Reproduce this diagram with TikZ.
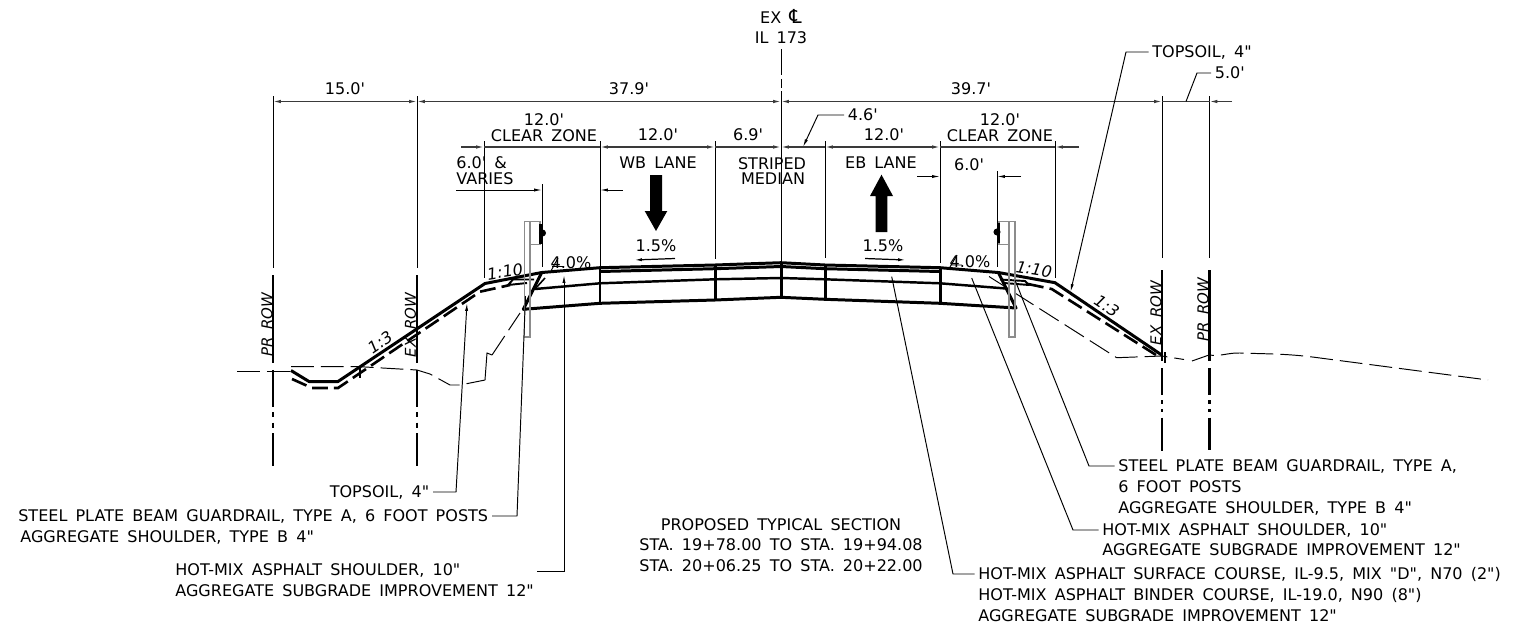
\documentclass[tikz,border=0pt]{standalone}
\usepackage{fontspec}
\usepackage{tikz}
\newfontfamily\drawingfont[WordSpace=1.6]{DejaVu Sans}
\definecolor{postgray}{HTML}{8C8C8C}
\definecolor{dimgray}{HTML}{3A3A3A}
\usetikzlibrary{arrows.meta}
\tikzstyle{lbl}=[inner sep=2pt, text height=6.8pt, text depth=0pt, font=\drawingfont\fontsize{9.12}{11}\selectfont]
\tikzstyle{lblw}=[lbl, anchor=west]
\tikzstyle{slope}=[lbl, font=\drawingfont\fontsize{9.12}{11}\selectfont\itshape]
\tikzstyle{rowtxt}=[lbl, rotate=90, font=\drawingfont\fontsize{8.5}{11}\selectfont\itshape]
\tikzstyle{thinln}=[draw=black, line width=0.55pt]
\tikzstyle{dimln}=[draw=dimgray, line width=0.7pt, arrows={Latex[length=4.5pt,width=2pt]-Latex[length=4.5pt,width=2pt]}]
\tikzstyle{leader}=[draw=black, line width=0.55pt, arrows={-Latex[length=4.5pt,width=1.8pt]}]
\tikzstyle{road}=[draw=black, line width=1.7pt, line join=round]
\tikzstyle{subgr}=[draw=black, line width=1.5pt, dash pattern=on 9pt off 3.5pt]
\tikzstyle{ground}=[draw=black, line width=0.55pt, dash pattern=on 13pt off 4pt]
\tikzstyle{rowln}=[draw=black, line width=1.5pt, dash pattern=on 50pt off 4pt on 21pt off 3pt on 3pt off 3pt on 3pt off 3pt on 30pt]
\tikzstyle{rowlnb}=[draw=black, line width=1.3pt, dash pattern=on 52pt off 4pt on 15pt off 3pt on 2pt off 3pt on 2pt off 3pt on 19pt]
\tikzstyle{post}=[draw=postgray, line width=0.8pt]
\tikzstyle{rail}=[circle, fill=black, inner sep=0pt, minimum size=4pt]
\begin{document}
\begin{tikzpicture}[x=0.02cm, y=-0.02cm]
		\useasboundingbox (0,0) rectangle (1532,626);
		% stations across the section
		\coordinate (prL) at (273,96);
		\coordinate (exL) at (417,96);
		\coordinate (czL) at (484,141);
		\coordinate (laneA) at (600,141);
		\coordinate (laneB) at (715,141);
		\coordinate (cl) at (781,49);
		\coordinate (laneC) at (825,141);
		\coordinate (laneD) at (940,141);
		\coordinate (czR) at (1055,141);
		\coordinate (exR) at (1162,96);
		\coordinate (prR) at (1209.5,96);
		\coordinate (gdL) at (542,184);
		\coordinate (gdR) at (997,171);
		\coordinate (dimtop) at (0,101.5);
		\coordinate (dimmid) at (0,147);
		% finished surface
		\coordinate (s1) at (291,370.5);
		\coordinate (s2) at (309,381.5);
		\coordinate (s3) at (338,381.5);
		\coordinate (s4) at (485,283.5);
		\coordinate (s5) at (541.7,272.5);
		\coordinate (s6) at (600,267.7);
		\coordinate (s7) at (715,265);
		\coordinate (s8) at (781,262.7);
		\coordinate (s9) at (825,265);
		\coordinate (s10) at (940,267.7);
		\coordinate (s11) at (998.3,272.5);
		\coordinate (s12) at (1055,282.7);
		\coordinate (s13) at (1161.7,355);
		\path[road] (s1) -- (s2) -- (s3) -- (s4) -- (s5) -- (s6) -- (s7) -- (s8) -- (s9) -- (s10) -- (s11) -- (s12) -- (s13);
		% pavement layers
		\coordinate (c1) at (600,271.5);
		\coordinate (c2) at (715,268.7);
		\coordinate (c3) at (781,266.5);
		\coordinate (c4) at (825,268.7);
		\coordinate (c5) at (940,271.5);
		\path[road] (c1) -- (c2) -- (c3) -- (c4) -- (c5);
		\coordinate (m1) at (535,289);
		\coordinate (m2) at (600,283.3);
		\coordinate (m3) at (715,279.3);
		\coordinate (m4) at (781,278);
		\coordinate (m5) at (825,279.3);
		\coordinate (m6) at (940,283.3);
		\coordinate (m7) at (1006,288.5);
		\path[road, line width=1.4pt] (m1) -- (m2) -- (m3) -- (m4) -- (m5) -- (m6) -- (m7);
		\coordinate (b1) at (523.3,309.3);
		\coordinate (b2) at (600,303.3);
		\coordinate (b3) at (715,300);
		\coordinate (b4) at (781,297.3);
		\coordinate (b5) at (825,299.3);
		\coordinate (b6) at (940,303.3);
		\coordinate (b7) at (1016,308);
		\path[road] (s5) -- (b1) -- (b2) -- (b3) -- (b4) -- (b5) -- (b6) -- (b7) -- (s11);
		\path[road]
			(s6) -- (b2)
			(s7) -- (b3)
			(s8) -- (b4)
			(s9) -- (b5)
			(s10) -- (b6);
		\coordinate (k1) at (545,278);
		\path[road, line width=0.9pt] (k1) -- (m1);
		% shoulder wedges
		\coordinate (wl1) at (508,285);
		\coordinate (wl2) at (513,279.5);
		\coordinate (wl3) at (527,283);
		\coordinate (wl4) at (534,279.5);
		\path[road, line width=1.1pt] (wl3) -- (wl1) -- (wl2) -- (wl4);
		\coordinate (wr1) at (1000,279.5);
		\coordinate (wr2) at (1025,281);
		\coordinate (wr3) at (1029,285);
		\coordinate (wr4) at (1004,283);
		\path[road, line width=1.1pt] (wr1) -- (wr2) -- (wr3) -- (wr4);
		% subgrade below topsoil
		\coordinate (d1) at (292,379);
		\coordinate (d2) at (312,388);
		\coordinate (d3) at (338,388);
		\coordinate (d4) at (480,291.7);
		\coordinate (d5) at (510,285);
		\path[subgr] (d1) -- (d2) -- (d3) -- (d4) -- (d5);
		\coordinate (d6) at (1028,284);
		\coordinate (d7) at (1051.7,289);
		\coordinate (d8) at (1160,357.5);
		\path[subgr] (d6) -- (d7) -- (d8);
		\coordinate (e1) at (360,367);
		\coordinate (e2) at (360,378);
		\coordinate (e3) at (1165,352);
		\coordinate (e4) at (1165,363);
		\path[road, line width=1.1pt] (e1) -- (e2) (e3) -- (e4);
		% existing ground
		\coordinate (g1) at (237,371);
		\coordinate (g2) at (291,371);
		\coordinate (g3) at (291,366.7);
		\coordinate (g4) at (360,366.7);
		\coordinate (g5) at (417,370);
		\coordinate (g6) at (430,374);
		\coordinate (g7) at (450,385);
		\coordinate (g8) at (460,385);
		\coordinate (g9) at (485,380);
		\coordinate (g10) at (487,353);
		\coordinate (g11) at (492,355);
		\coordinate (g12) at (520,313);
		\path[ground] (g1) -- (g2);
		\path[ground] (g3) -- (g4) -- (g5) -- (g6) -- (g7) -- (g8) -- (g9);
		\path[thinln] (g9) -- (g10) -- (g11);
		\path[ground] (g11) -- (g12);
		\coordinate (h1) at (989,276.5);
		\coordinate (h2) at (1116.7,357.7);
		\coordinate (h3) at (1162,356);
		\coordinate (h4) at (1184,359.5);
		\coordinate (h5) at (1192,361);
		\coordinate (h6) at (1209,355);
		\coordinate (h7) at (1240,353);
		\coordinate (h8) at (1320,358);
		\coordinate (h9) at (1488,380);
		\path[ground] (h1) -- (h2) -- (h3) -- (h4);
		\path[ground] (h5) -- (h6) to[out=-8, in=178] (h7) to[out=-2, in=172] (h8) -- (h9);
		% extension lines
		\coordinate (prLend) at (273,268);
		\coordinate (exLend) at (417,268);
		\coordinate (czLend) at (484,278);
		\coordinate (laneAend) at (600,267);
		\coordinate (laneBend) at (715,259);
		\coordinate (laneCend) at (825,258);
		\coordinate (laneDend) at (940,263);
		\coordinate (czRend) at (1055,278);
		\coordinate (exRend) at (1162,258);
		\coordinate (prRend) at (1209.5,258);
		\coordinate (gdLend) at (542,267);
		\coordinate (gdRend) at (997,267);
		\coordinate (clend) at (781,298);
		\path[thinln]
			(prL) -- (prLend)
			(exL) -- (exLend)
			(czL) -- (czLend)
			(laneA) -- (laneAend)
			(laneB) -- (laneBend)
			(laneC) -- (laneCend)
			(laneD) -- (laneDend)
			(czR) -- (czRend)
			(exR) -- (exRend)
			(prR) -- (prRend)
			(gdL) -- (gdLend)
			(gdR) -- (gdRend);
		\path[thinln, dash pattern=on 15pt off 2pt on 5pt off 2pt on 200pt] (cl) -- (clend);
		% right of way lines
		\coordinate (rowa) at (273,275);
		\coordinate (rowb) at (273,466);
		\coordinate (rowc) at (417,275);
		\coordinate (rowd) at (417,466);
		\coordinate (rowe) at (1162,270);
		\coordinate (rowf) at (1162,453);
		\coordinate (rowg) at (1209.5,270);
		\coordinate (rowh) at (1209.5,450);
		\path[rowln] (rowa) -- (rowb);
		\path[rowln] (rowc) -- (rowd);
		\path[rowlnb] (rowe) -- (rowf);
		\path[rowlnb] (rowg) -- (rowh);
		% dimension lines
		\path[dimln] (prL|-dimtop) -- (exL|-dimtop);
		\path[dimln] (exL|-dimtop) -- (cl|-dimtop);
		\path[dimln] (cl|-dimtop) -- (exR|-dimtop);
		\coordinate (topa) at (1232,101.5);
		\path[dimln, arrows={-Latex[length=4.5pt,width=2pt]}] (topa) -- (prR|-dimtop);
		\path[dimln, arrows={-}] (exR|-dimtop) -- (prR|-dimtop);
		\path[dimln] (laneA|-dimmid) -- (laneB|-dimmid);
		\path[dimln, arrows={-Latex[length=4.5pt,width=2pt]}] (laneB|-dimmid) -- (cl|-dimmid);
		\path[dimln, arrows={-Latex[length=4.5pt,width=2pt]}] (laneC|-dimmid) -- (cl|-dimmid);
		\path[dimln] (laneC|-dimmid) -- (laneD|-dimmid);
		\coordinate (mida) at (461,147);
		\coordinate (midb) at (1079,147);
		\path[dimln, arrows={-Latex[length=4.5pt,width=2pt]}] (mida) -- (czL|-dimmid);
		\path[dimln, arrows={-}] (czL|-dimmid) -- (laneA|-dimmid);
		\path[dimln, arrows={-}] (laneD|-dimmid) -- (czR|-dimmid);
		\path[dimln, arrows={-Latex[length=4.5pt,width=2pt]}] (midb) -- (czR|-dimmid);
		\coordinate (ga) at (456,190);
		\coordinate (gb) at (542,190);
		\coordinate (gc) at (622.5,190);
		\coordinate (gd) at (600,190);
		\path[leader] (ga) -- (gb);
		\path[leader] (gc) -- (gd);
		\coordinate (ge) at (917,176.5);
		\coordinate (gf) at (940,176.5);
		\coordinate (gg) at (1021,176.5);
		\coordinate (gh) at (997,176.5);
		\path[leader] (ge) -- (gf);
		\path[leader] (gg) -- (gh);
		% cross slope arrows
		\coordinate (ca) at (675,258.5);
		\coordinate (cb) at (634,260);
		\coordinate (cc) at (865,258.5);
		\coordinate (cd) at (906,260);
		\path[leader, line width=0.7pt] (ca) -- (cb);
		\path[leader, line width=0.7pt] (cc) -- (cd);
		\coordinate (ce) at (551.5,270);
		\coordinate (cf) at (558,258);
		\coordinate (cg) at (552,266.5);
		\coordinate (ch) at (564,266.5);
		\path[thinln] (ce) -- (cf) (cg) -- (ch);
		\coordinate (ci) at (950,267);
		\coordinate (cj) at (957,255);
		\coordinate (ck) at (951,265);
		\coordinate (cl2) at (962,265);
		\path[thinln] (ci) -- (cj) (ck) -- (cl2);
		% direction arrows
		\fill[black] (650,175) -- (662,175) -- (662,211) -- (667.3,211) -- (656,231) -- (644.7,211) -- (650,211) -- cycle;
		\fill[black] (875.7,232) -- (887.3,232) -- (887.3,196) -- (893,196) -- (881.5,174.7) -- (870,196) -- (875.7,196) -- cycle;
		% guardrail
		\path[post] (524.5,221.5) rectangle (530,337) (530,221.5) rectangle (540,244.5);
		\path[post] (1009,221.5) rectangle (1015,337) (999,221.5) rectangle (1009,244.5);
		\node[rail](railL) at (542.5,233) {};
		\node[rail](railR) at (997,232) {};
		\path[draw=black, line width=1.2pt]
			(railL.center) ++(-2,-9) -- ++(0,20)
			(railR.center) ++(2,-9) -- ++(0,20);
		% labels
		\node[lbl](clA) at (781,18) {EX {\fontsize{11}{11}\selectfont ℄}};
		\node[lbl](clB) at (781,38) {IL 173};
		\node[lbl](dimA) at (345,89) {15.0'};
		\node[lbl](dimB) at (629,89) {37.9'};
		\node[lbl](dimC) at (971,89) {39.7'};
		\node[lblw](dimD) at (1211,73) {5.0'};
		\node[lblw](dimE) at (844,115) {4.6'};
		\node[lbl](czAa) at (544,120) {12.0'};
		\node[lbl](czAb) at (544,135.5) {CLEAR ZONE};
		\node[lbl](czBa) at (1000,120) {12.0'};
		\node[lbl](czBb) at (1000,135.5) {CLEAR ZONE};
		\node[lbl](dimF) at (658,135) {12.0'};
		\node[lbl](dimG) at (748,135) {6.9'};
		\node[lbl](dimH) at (884,135) {12.0'};
		\node[lbl](laneW) at (658,163) {WB LANE};
		\node[lbl](laneE) at (881,163) {EB LANE};
		\node[lbl](medA) at (772,164) {STRIPED};
		\node[lbl](medB) at (773,179) {MEDIAN};
		\node[lblw](gdA) at (452.5,163) {6.0' \&};
		\node[lblw](gdB) at (452.5,179) {VARIES};
		\node[lbl](gdC) at (969,165) {6.0'};
		\node[lbl](pctA) at (656,246) {1.5\%};
		\node[lbl](pctB) at (883,246) {1.5\%};
		\node[lbl](pctC) at (571,263) {4.0\%};
		\node[lbl](pctD) at (970,262) {4.0\%};
		\node[slope, rotate=9](slA) at (505,271.5) {1:10};
		\node[slope, rotate=-9](slB) at (1034,269) {1:10};
		\node[slope, rotate=34](slC) at (380,342) {1:3};
		\node[slope, rotate=-34](slD) at (1107,306) {1:3};
		\node[rowtxt](rowA) at (266.5,325) {PR ROW};
		\node[rowtxt](rowB) at (410,325) {EX ROW};
		\node[rowtxt](rowC) at (1155.5,313) {EX ROW};
		\node[rowtxt](rowD) at (1202.5,310) {PR ROW};
		\node[lbl, anchor=east](noteA) at (433,492) {TOPSOIL, 4"};
		\node[lbl, anchor=east](noteB) at (492,516) {STEEL PLATE BEAM GUARDRAIL, TYPE A, 6 FOOT POSTS};
		\node[lblw](noteC) at (16.5,537) {AGGREGATE SHOULDER, TYPE B 4"};
		\node[lblw](noteD) at (171.5,570) {HOT-MIX ASPHALT SHOULDER, 10"};
		\node[lblw](noteE) at (171.5,591) {AGGREGATE SUBGRADE IMPROVEMENT 12"};
		\node[lbl](titleA) at (781,525) {PROPOSED TYPICAL SECTION};
		\node[lbl](titleB) at (781,545) {STA. 19+78.00 TO STA. 19+94.08};
		\node[lbl](titleC) at (781,566) {STA. 20+06.25 TO STA. 20+22.00};
		\node[lblw](noteF) at (1114.5,466) {STEEL PLATE BEAM GUARDRAIL, TYPE A,};
		\node[lblw](noteG) at (1114.5,487) {6 FOOT POSTS};
		\node[lblw](noteH) at (1114.5,508) {AGGREGATE SHOULDER, TYPE B 4"};
		\node[lblw](noteI) at (1098.5,530) {HOT-MIX ASPHALT SHOULDER, 10"};
		\node[lblw](noteJ) at (1098.5,550) {AGGREGATE SUBGRADE IMPROVEMENT 12"};
		\node[lblw](noteK) at (974.5,574) {HOT-MIX ASPHALT SURFACE COURSE, IL-9.5, MIX "D", N70 (2")};
		\node[lblw](noteL) at (974.5,595) {HOT-MIX ASPHALT BINDER COURSE, IL-19.0, N90 (8")};
		\node[lblw](noteM) at (974.5,616) {AGGREGATE SUBGRADE IMPROVEMENT 12"};
		\node[lblw](noteN) at (1148.5,52) {TOPSOIL, 4"};
		% leaders
		\coordinate (la1) at (456,492);
		\coordinate (la2) at (467,303);
		\path[leader] (noteA.east) -- (la1) -- (la2);
		\coordinate (lb1) at (517,516);
		\coordinate (lb2) at (525.5,296);
		\path[thinln] (noteB.east) -- (lb1) -- (lb2);
		\coordinate (lc0) at (537,571);
		\coordinate (lc1) at (564,571);
		\coordinate (lc2) at (564,275);
		\path[leader] (lc0) -- (lc1) -- (lc2);
		\coordinate (ld1) at (1089,466);
		\coordinate (ld2) at (1015,280);
		\path[thinln] (noteF.west) -- (ld1) -- (ld2);
		\coordinate (le1) at (1073,530);
		\coordinate (le2) at (971.7,278);
		\path[thinln] (noteI.west) -- (le1) -- (le2);
		\coordinate (lf1) at (953,574);
		\coordinate (lf2) at (891.7,276.7);
		\path[thinln] (noteK.west) -- (lf1) -- (lf2);
		\coordinate (lg1) at (1126,52);
		\coordinate (lg2) at (1070.5,292);
		\path[leader] (noteN.west) -- (lg1) -- (lg2);
		\coordinate (lh1) at (818,115);
		\coordinate (lh2) at (803,147);
		\path[leader] (dimE.west) -- (lh1) -- (lh2);
		\coordinate (li1) at (1197,73);
		\coordinate (li2) at (1186,101.5);
		\path[thinln] (dimD.west) -- (li1) -- (li2);
	\end{tikzpicture}
\end{document}
